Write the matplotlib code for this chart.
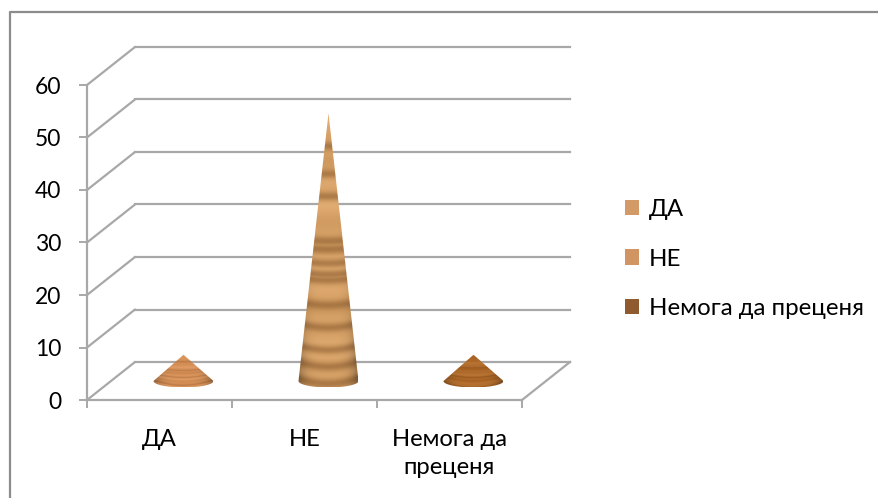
import numpy as np
import matplotlib
matplotlib.use("Agg")
import matplotlib.pyplot as plt
from matplotlib.patches import Polygon, Rectangle
from matplotlib.lines import Line2D

plt.rcParams['font.family'] = ['Lato', 'Open Sans', 'DejaVu Sans']

categories = ['ДА', 'НЕ', 'Немога да\nпреценя']
legend_labels = ['ДА', 'НЕ', 'Немога да преценя']
values = [5, 51, 5]
y_ticks = [0, 10, 20, 30, 40, 50, 60]

W, H = 879, 498
L, R, T, B = 87, 522, 85, 400
GRID = '#a8a8a8'
DX_PX, DY_PX = 48, 38
dx = DX_PX / ((R - L) / 3)
dy = DY_PX / ((B - T) / 60)
half_w = 30 / ((R - L) / 3)
half_h = 6.5 / ((B - T) / 60)

cone_base = [np.array([0.84, 0.57, 0.35]), np.array([0.85, 0.64, 0.41]), np.array([0.69, 0.42, 0.17])]
cone_dark = [np.array([0.68, 0.43, 0.24]), np.array([0.60, 0.41, 0.22]), np.array([0.55, 0.32, 0.11])]
band_stops = [
    [0.2, 0.42, 0.6, 0.8],
    [0.12, 0.22, 0.3, 0.46, 0.49, 0.54, 0.58, 0.6, 0.69, 0.77, 0.85, 0.91, 0.97],
    [0.35, 0.6, 0.85],
]
legend_colors = ['#d39a68', '#d09562', '#8e5a2e']

fig = plt.figure(figsize=(W / 100, H / 100), dpi=100)
fig.add_artist(Line2D([10 / W, 10 / W, 1], [0, 1 - 12 / H, 1 - 12 / H], transform=fig.transFigure,
                      color='#8c8c8c', lw=1.6))
ax = fig.add_axes([L / W, 1 - B / H, (R - L) / W, (B - T) / H])
ax.patch.set_alpha(0)

# walls and floor
for v in y_ticks:
    ax.plot([0, dx], [v, v + dy], color=GRID, lw=1.6, clip_on=False, zorder=1, solid_capstyle='round')
    ax.plot([dx, 3 + dx], [v + dy, v + dy], color=GRID, lw=1.6, clip_on=False, zorder=1)
ax.plot([3, 3 + dx], [0, dy], color=GRID, lw=1.6, clip_on=False, zorder=1)

# cones
for i, v in enumerate(values):
    cx = i + 0.5 + dx / 2
    cy = dy / 2
    t = np.linspace(np.pi, 2 * np.pi, 40)
    pts = [(cx, cy + v)] + list(zip(cx + half_w * np.cos(t), cy + half_h * np.sin(t)))
    n_rows, n_cols = 300, 60
    rows = np.linspace(0, 1, n_rows)[:, None]
    c = np.linspace(-1, 1, n_cols)[None, :]
    bend = rows - (half_h / (v + half_h)) * 0.8 * (1 - c ** 2) * rows
    strength = np.zeros((n_rows, n_cols))
    for s in band_stops[i]:
        strength = np.maximum(strength, 0.7 * np.exp(-((bend - s) / 0.016) ** 2))
    tone = 0.25 * np.sin(bend * 23 + i) + 0.15 * np.sin(bend * 61)
    shade = 1 - 0.3 * np.abs(c) ** 4
    img = np.zeros((n_rows, n_cols, 3))
    for k in range(3):
        col = cone_base[i][k] + tone * 0.1
        col = col * (1 - strength) + cone_dark[i][k] * strength
        img[:, :, k] = np.clip(col * shade, 0, 1)
    poly = Polygon(pts, closed=True, transform=ax.transData, fill=False, ec='none')
    ax.add_patch(poly)
    im = ax.imshow(img, extent=[cx - half_w, cx + half_w, cy - half_h, cy + v], origin='upper',
                   aspect='auto', interpolation='bilinear', zorder=3)
    im.set_clip_path(poly)

ax.set_xlim(0, 3)
ax.set_ylim(0, 60)
for s in ['top', 'right']:
    ax.spines[s].set_visible(False)
for s in ['left', 'bottom']:
    ax.spines[s].set_color(GRID)
    ax.spines[s].set_linewidth(1.6)
ax.set_yticks(y_ticks)
ax.set_xticks([0, 1, 2, 3])
ax.set_xticklabels([])
ax.set_xticks([0.5, 1.5, 2.5], minor=True)
ax.set_xticklabels(categories, minor=True, fontsize=17.2, linespacing=1.42, color='black')
ax.tick_params(axis='x', which='major', length=5.5, width=1.4, color=GRID)
ax.tick_params(axis='x', which='minor', length=0, pad=21)
ax.tick_params(axis='y', length=5.5, width=1.4, color=GRID, labelsize=16.5, pad=13)

# legend
handles = [Rectangle((0, 0), 1, 1, fc=c, ec='none') for c in legend_colors]
fig.legend(handles, legend_labels, loc='center left', bbox_to_anchor=(625 / W, 1 - 259 / H),
           frameon=False, fontsize=17.3, handlelength=0.6, handleheight=0.6, handletextpad=0.4,
           labelspacing=1.2, borderpad=0, borderaxespad=0)

fig.savefig('out.png', dpi=100)
